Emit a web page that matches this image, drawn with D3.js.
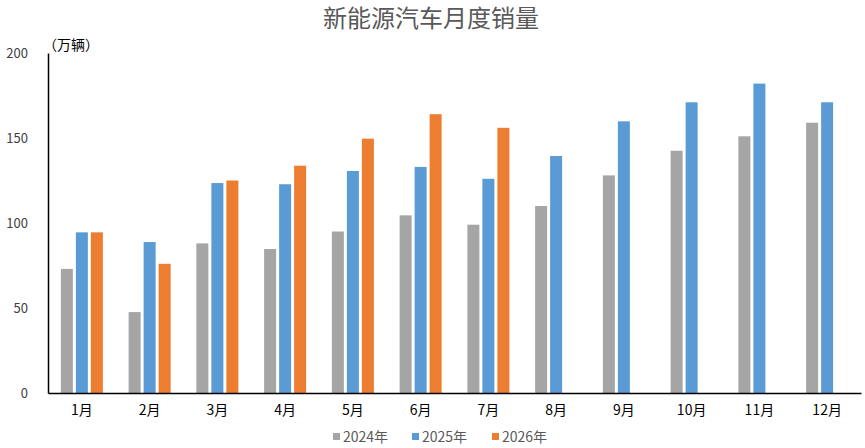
<!DOCTYPE html>
<html lang="zh">
<head>
<meta charset="UTF-8">
<title>新能源汽车月度销量</title>
<style>
  body { margin: 0; background: #fff; }
  text { font-family: "Noto Sans CJK SC", "DejaVu Sans", sans-serif; }
</style>
</head>
<body>
<script src="https://cdn.jsdelivr.net/npm/d3@7/dist/d3.min.js"></script>
<script>
  const months = ["1月","2月","3月","4月","5月","6月","7月","8月","9月","10月","11月","12月"]
  const years = ["2024年","2025年","2026年"]
  const sales2024 = [73, 47.6, 88, 84.7, 95, 104.5, 99, 110, 128, 142.5, 151, 159]
  const sales2025 = [94.5, 88.8, 123.5, 122.8, 130.6, 133, 126, 139.4, 159.8, 171, 182, 171]
  const sales2026 = [94.5, 76, 125, 133.7, 149.6, 164, 156, null, null, null, null, null]
  const yTicks = [0, 50, 100, 150, 200]
  const colors = ["#A5A5A5", "#5B9BD5", "#ED7D31"]

  const width = 865, height = 448
  const margin = {top: 53, right: 4, bottom: 55, left: 48}

  const svg = d3.select("body").append("svg")
    .attr("width", width)
    .attr("height", height)

  // title
  svg.append("text")
    .attr("x", 431)
    .attr("y", 27)
    .attr("text-anchor", "middle")
    .attr("font-size", 24)
    .attr("fill", "#595959")
    .text("新能源汽车月度销量")

  const x = d3.scaleBand()
    .domain(months)
    .range([margin.left, width - margin.right])
    .paddingInner(0.38)
    .paddingOuter(0.19)

  const xSub = d3.scaleBand()
    .domain(years)
    .range([0, x.bandwidth()])
    .paddingInner(0.2)

  const y = d3.scaleLinear()
    .domain([0, 200])
    .range([height - margin.bottom, margin.top])

  const series = [sales2024, sales2025, sales2026]

  // bars
  series.forEach((vals, s) => {
    svg.append("g")
      .selectAll("rect")
      .data(vals.map((v, i) => ({m: months[i], v: v})).filter(d => d.v != null))
      .enter()
      .append("rect")
      .attr("x", d => x(d.m) + xSub(years[s]))
      .attr("y", d => y(d.v))
      .attr("width", xSub.bandwidth())
      .attr("height", d => y(0) - y(d.v))
      .attr("fill", colors[s])
  })

  // y axis
  const yAxis = svg.append("g")
    .attr("transform", "translate(" + margin.left + ",0)")
    .call(d3.axisLeft(y).tickValues(yTicks).tickSize(0).tickPadding(20))
  yAxis.select(".domain").attr("stroke", "#000").attr("stroke-width", 1.5)
  yAxis.selectAll("text")
    .attr("font-size", 13)
    .attr("fill", "#404040")
    .attr("font-family", "DejaVu Sans Condensed, sans-serif")

  // x axis
  const xAxis = svg.append("g")
    .attr("transform", "translate(0," + y(0) + ")")
    .call(d3.axisBottom(x).tickSize(0).tickPadding(12).tickSizeOuter(0))
  xAxis.select(".domain").attr("stroke", "#000").attr("stroke-width", 1.5)
  xAxis.selectAll("text")
    .attr("font-size", 14)
    .attr("fill", "#000")

  // unit label
  svg.append("text")
    .attr("x", 43)
    .attr("y", 50)
    .attr("font-size", 14)
    .attr("fill", "#000")
    .text("（万辆）")

  // legend
  const legendX = [333, 412, 492]
  const legend = svg.append("g")
    .selectAll("g")
    .data(years)
    .enter()
    .append("g")
    .attr("transform", (d, i) => "translate(" + legendX[i] + ",437)")
  legend.append("rect")
    .attr("x", 0).attr("y", -4)
    .attr("width", 7).attr("height", 7)
    .attr("fill", (d, i) => colors[i])
  legend.append("text")
    .attr("x", 10)
    .attr("y", 5)
    .attr("font-size", 14)
    .attr("fill", "#595959")
    .text(d => d)
</script>
</body>
</html>
